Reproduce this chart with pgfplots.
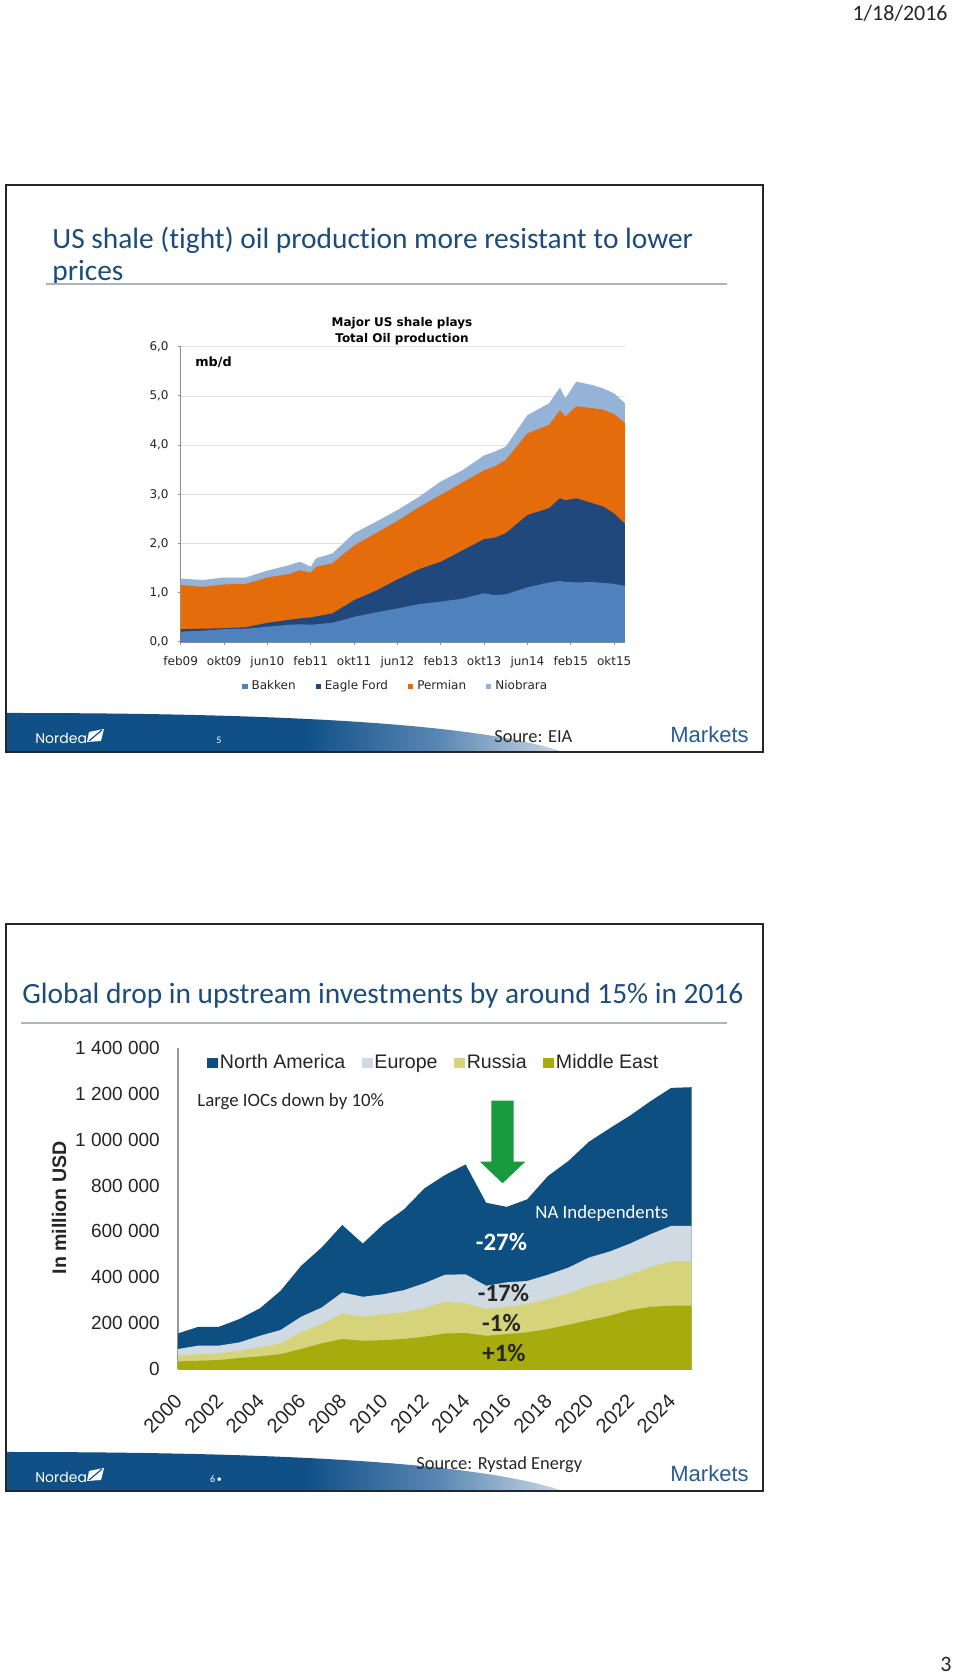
\documentclass[border=0pt]{standalone}
\usepackage{fontspec}
\setmainfont{Carlito}[Ligatures={NoCommon,NoContextual}]
\newfontfamily\verd{DejaVu Sans}
\newfontfamily\arial{Liberation Sans}
\newfontfamily\popp{Poppins}
\usepackage{pgfplots}
\usepackage{pgfplotstable}
\pgfplotsset{compat=1.18}

\definecolor{bakken}{RGB}{79,129,189}
\definecolor{eagle}{RGB}{33,72,124}
\definecolor{permian}{RGB}{228,108,10}
\definecolor{niob}{RGB}{149,179,215}
\definecolor{na}{RGB}{14,79,130}
\definecolor{eu}{RGB}{208,218,227}
\definecolor{ru}{RGB}{214,212,122}
\definecolor{me}{RGB}{166,172,14}
\definecolor{arrowg}{RGB}{24,155,62}
\definecolor{titleblue}{RGB}{28,76,122}
\definecolor{footblue}{RGB}{16,80,135}
\definecolor{footmid}{RGB}{90,135,180}
\definecolor{footlight}{RGB}{200,214,228}
\definecolor{mkblue}{RGB}{40,92,145}
\definecolor{rulegray}{RGB}{170,180,192}
\definecolor{txt}{RGB}{38,38,38}

\pgfdeclarehorizontalshading{swoosh}{100bp}{color(0bp)=(footblue); color(25bp)=(footblue); color(52bp)=(footblue); color(64bp)=(footmid); color(75bp)=(footlight); color(100bp)=(footlight)}

% cumulative (stacked) tops, mb/d; m = months since feb09
\pgfplotstableread{
m  bak  eag  per  nio
0  0.21 0.26 1.16 1.29
4  0.23 0.27 1.12 1.26
8  0.26 0.28 1.17 1.31
12 0.27 0.30 1.18 1.31
16 0.31 0.39 1.31 1.45
20 0.35 0.45 1.38 1.56
22 0.36 0.48 1.46 1.63
24 0.35 0.50 1.41 1.53
25 0.36 0.52 1.53 1.70
28 0.39 0.58 1.60 1.80
32 0.51 0.85 1.96 2.21
36 0.60 1.04 2.21 2.44
40 0.68 1.27 2.46 2.68
44 0.77 1.48 2.74 2.95
48 0.82 1.63 2.99 3.26
52 0.88 1.86 3.24 3.49
56 0.99 2.09 3.49 3.79
58 0.95 2.12 3.57 3.87
60 0.97 2.21 3.70 3.97
64 1.11 2.58 4.24 4.61
68 1.21 2.72 4.41 4.85
70 1.24 2.92 4.71 5.17
71 1.22 2.88 4.58 4.95
73 1.21 2.92 4.79 5.29
76 1.22 2.82 4.75 5.22
78 1.20 2.75 4.72 5.15
80 1.18 2.61 4.63 5.05
82 1.14 2.40 4.45 4.85
}\shale

% cumulative (stacked) tops, million USD
\pgfplotstableread{
yr   na      eu     ru     me
2000 155000  87000  58000  33000
2001 184000  102000 65000  36000
2002 184000  102000 68000  39000
2003 218000  116000 80000  48000
2004 265000  145000 94000  55000
2005 341000  170000 112000 65000
2006 450000  228000 160000 87000
2007 530000  268000 196000 112000
2008 628000  334000 242000 131000
2009 547000  315000 228000 123000
2010 631000  326000 239000 126000
2011 696000  344000 247000 131000
2012 788000  374000 265000 141000
2013 846000  411000 293000 155000
2014 892000  413000 287000 157000
2015 725000  363000 261000 145000
2016 707000  378000 271000 152000
2017 740000  384000 283000 160000
2018 841000  411000 305000 174000
2019 907000  442000 329000 193000
2020 991000  486000 363000 213000
2021 1049000 512000 384000 232000
2022 1105000 547000 413000 257000
2023 1168000 588000 445000 271000
2024 1226000 624000 469000 276000
2025 1229000 624000 469000 276000
}\invest

\begin{document}
\begin{tikzpicture}
\path[use as bounding box, fill=white] (0pt,0pt) rectangle (480pt,838pt);

\begin{scope}[x=0.5pt,y=-0.5pt,yshift=838pt]
% date
\node[anchor=base east, inner sep=0pt, text=txt, font=\fontsize{11}{13}\selectfont] at (948,21) {1/18/2016};
\node[anchor=base east, inner sep=0pt, text=txt, font=\fontsize{11}{13}\selectfont] at (952,1672) {3};

% ---------- slide 1 ----------
\shade[shading=swoosh] (7,751) -- (7,713) .. controls (300,713) and (480,725) .. (560,751) -- cycle;
\draw[line width=1pt, black!85] (6,185) rectangle (763,752);
\node[anchor=base west, inner sep=0pt, text=titleblue, font=\fontsize{14.7}{17}\selectfont] at (52,249) {US shale (tight) oil production more resistant to lower};
\node[anchor=base west, inner sep=0pt, text=titleblue, font=\fontsize{14.7}{17}\selectfont] at (52,281) {prices};
\draw[rulegray, line width=0.8pt] (46,284) -- (727,284);
\node[anchor=base west, inner sep=0pt, text=white, font=\popp\fontsize{7}{8}\selectfont] at (35,744) {Nordea};
\fill[white] (87,742) -- (89,732) -- (104,729) -- (101,741) -- cycle;
\draw[footblue, line width=0.6pt] (89,741) -- (102,730);
\node[anchor=base, inner sep=0pt, text=white, font=\fontsize{5}{6}\selectfont] at (219,744) {5};
\node[anchor=base west, inner sep=0pt, text=txt, font=\fontsize{9.2}{11}\selectfont] at (494,743) {Soure: EIA};
\node[anchor=base west, inner sep=0pt, text=mkblue, font=\arial\fontsize{11}{13}\selectfont] at (670,743) {Markets};

% chart title / unit
\node[align=center, inner sep=0pt, font=\verd\bfseries\fontsize{6}{8}\selectfont] at (402,331) {Major US shale plays\\Total Oil production};
\node[anchor=west, inner sep=0pt, font=\verd\bfseries\fontsize{6.4}{8}\selectfont] at (195,362) {mb/d};

% ---------- slide 2 ----------
\shade[shading=swoosh] (7,1490) -- (7,1452) .. controls (300,1452) and (480,1464) .. (560,1490) -- cycle;
\draw[line width=1pt, black!85] (6,924) rectangle (763,1491);
\node[anchor=base west, inner sep=0pt, text=titleblue, font=\fontsize{14.7}{17}\selectfont] at (22,1004) {Global drop in upstream investments by around 15\% in 2016};
\draw[rulegray, line width=0.8pt] (21,1023) -- (727,1023);
\node[anchor=base west, inner sep=0pt, text=white, font=\popp\fontsize{7}{8}\selectfont] at (35,1483) {Nordea};
\fill[white] (87,1481) -- (89,1471) -- (104,1468) -- (101,1480) -- cycle;
\draw[footblue, line width=0.6pt] (89,1480) -- (102,1469);
\node[anchor=base, inner sep=0pt, text=white, font=\fontsize{5}{6}\selectfont] at (216,1483) {6\,\textbullet};
\node[anchor=base west, inner sep=0pt, text=txt, font=\fontsize{9.2}{11}\selectfont] at (416,1470) {Source: Rystad Energy};
\node[anchor=base west, inner sep=0pt, text=mkblue, font=\arial\fontsize{11}{13}\selectfont] at (670,1482) {Markets};
\node[rotate=90, inner sep=0pt, text=txt, font=\arial\bfseries\fontsize{9.8}{12}\selectfont] at (59,1208) {In million USD};
\end{scope}

% ---------- chart 1 ----------
\begin{axis}[
  at={(90.35pt,517pt)}, anchor=south west,
  scale only axis, width=222.15pt, height=147.65pt,
  xmin=0, xmax=82, ymin=0, ymax=6,
  axis lines*=left,
  axis line style={draw=black!45, line width=0.6pt},
  xtick={0,8,...,80},
  xticklabels={feb09,okt09,jun10,feb11,okt11,jun12,feb13,okt13,jun14,feb15,okt15},
  ytick={0,1,2,3,4,5,6},
  yticklabels={{0,0},{1,0},{2,0},{3,0},{4,0},{5,0},{6,0}},
  tick align=outside, major tick length=1.5pt,
  tick style={draw=black!45, line width=0.5pt},
  ymajorgrids, grid style={draw=black!12, line width=0.4pt},
  ticklabel style={font=\verd\fontsize{6}{7}\selectfont, text=txt},
  xticklabel style={yshift=-2pt},
  yticklabel style={xshift=-1pt},
  legend columns=4, reverse legend,
  legend image code/.code={\fill[#1] (0pt,-1.3pt) rectangle (2.6pt,1.3pt);},
  legend style={at={(0.138,-0.152)}, anchor=west, draw=none, fill=none, inner sep=0pt,
    font=\verd\fontsize{6}{7}\selectfont, text=txt,
    nodes={inner xsep=2pt, inner ysep=1pt},
    /tikz/every even column/.append style={column sep=8pt}},
]
\addplot[fill=niob, draw=none] table[x=m, y=nio] {\shale} \closedcycle;
\addlegendentry{Niobrara}
\addplot[fill=permian, draw=none] table[x=m, y=per] {\shale} \closedcycle;
\addlegendentry{Permian}
\addplot[fill=eagle, draw=none] table[x=m, y=eag] {\shale} \closedcycle;
\addlegendentry{Eagle Ford}
\addplot[fill=bakken, draw=none] table[x=m, y=bak] {\shale} \closedcycle;
\addlegendentry{Bakken}
\end{axis}

% ---------- chart 2 ----------
\begin{axis}[
  at={(88.9pt,153.5pt)}, anchor=south west,
  scale only axis, width=256.95pt, height=160.5pt,
  xmin=2000, xmax=2025, ymin=0, ymax=1400000,
  axis lines*=left,
  axis line style={draw=black!40, line width=0.7pt},
  xtick={2000,2002,...,2024},
  xticklabels={2000,2002,2004,2006,2008,2010,2012,2014,2016,2018,2020,2022,2024},
  ytick={0,200000,400000,600000,800000,1000000,1200000,1400000},
  yticklabels={0,200 000,400 000,600 000,800 000,1 000 000,1 200 000,1 400 000},
  scaled y ticks=false,
  major tick length=0pt,
  ticklabel style={font=\arial\fontsize{9.5}{11}\selectfont, text=txt},
  yticklabel style={xshift=-5.5pt},
  xticklabel style={rotate=45, anchor=east, xshift=-6.5pt, yshift=-10.5pt, font=\arial\fontsize{10}{12}\selectfont},
  legend columns=4,
  legend image code/.code={\fill[#1] (0pt,-2.7pt) rectangle (5.5pt,2.7pt);},
  legend style={at={(0.0568,0.953)}, anchor=west, draw=none, fill=none, inner sep=0pt,
    font=\arial\fontsize{9.8}{11}\selectfont, text=txt,
    nodes={inner xsep=0.8pt, inner ysep=1pt},
    /tikz/every even column/.append style={column sep=7.5pt}},
]
\addplot[fill=na, draw=none] table[x=yr, y=na] {\invest} \closedcycle;
\addlegendentry{North America}
\addplot[fill=eu, draw=none] table[x=yr, y=eu] {\invest} \closedcycle;
\addlegendentry{Europe}
\addplot[fill=ru, draw=none] table[x=yr, y=ru] {\invest} \closedcycle;
\addlegendentry{Russia}
\addplot[fill=me, draw=none] table[x=yr, y=me] {\invest} \closedcycle;
\addlegendentry{Middle East}
\fill[arrowg] (axis cs:2015.26,1170000) -- (axis cs:2016.34,1170000) -- (axis cs:2016.34,904000)
  -- (axis cs:2016.9,904000) -- (axis cs:2015.8,810000) -- (axis cs:2014.7,904000)
  -- (axis cs:2015.26,904000) -- cycle;
\end{axis}

% annotations of chart 2
\begin{scope}[x=0.5pt,y=-0.5pt,yshift=838pt]
\node[anchor=west, inner sep=0pt, text=txt, font=\fontsize{9.4}{11}\selectfont] at (197,1102) {Large IOCs down by 10\%};
\node[anchor=west, inner sep=0pt, text=white, font=\fontsize{9.4}{11}\selectfont] at (535,1213) {NA Independents};
\node[inner sep=0pt, text=white, font=\bfseries\fontsize{12.5}{14}\selectfont] at (501.5,1242) {-27\%};
\node[inner sep=0pt, text=txt, font=\bfseries\fontsize{12.5}{14}\selectfont] at (503.5,1293) {-17\%};
\node[inner sep=0pt, text=txt, font=\bfseries\fontsize{12.5}{14}\selectfont] at (501.5,1323) {-1\%};
\node[inner sep=0pt, text=txt, font=\bfseries\fontsize{12.5}{14}\selectfont] at (504,1353) {+1\%};
\end{scope}
\end{tikzpicture}
\end{document}
